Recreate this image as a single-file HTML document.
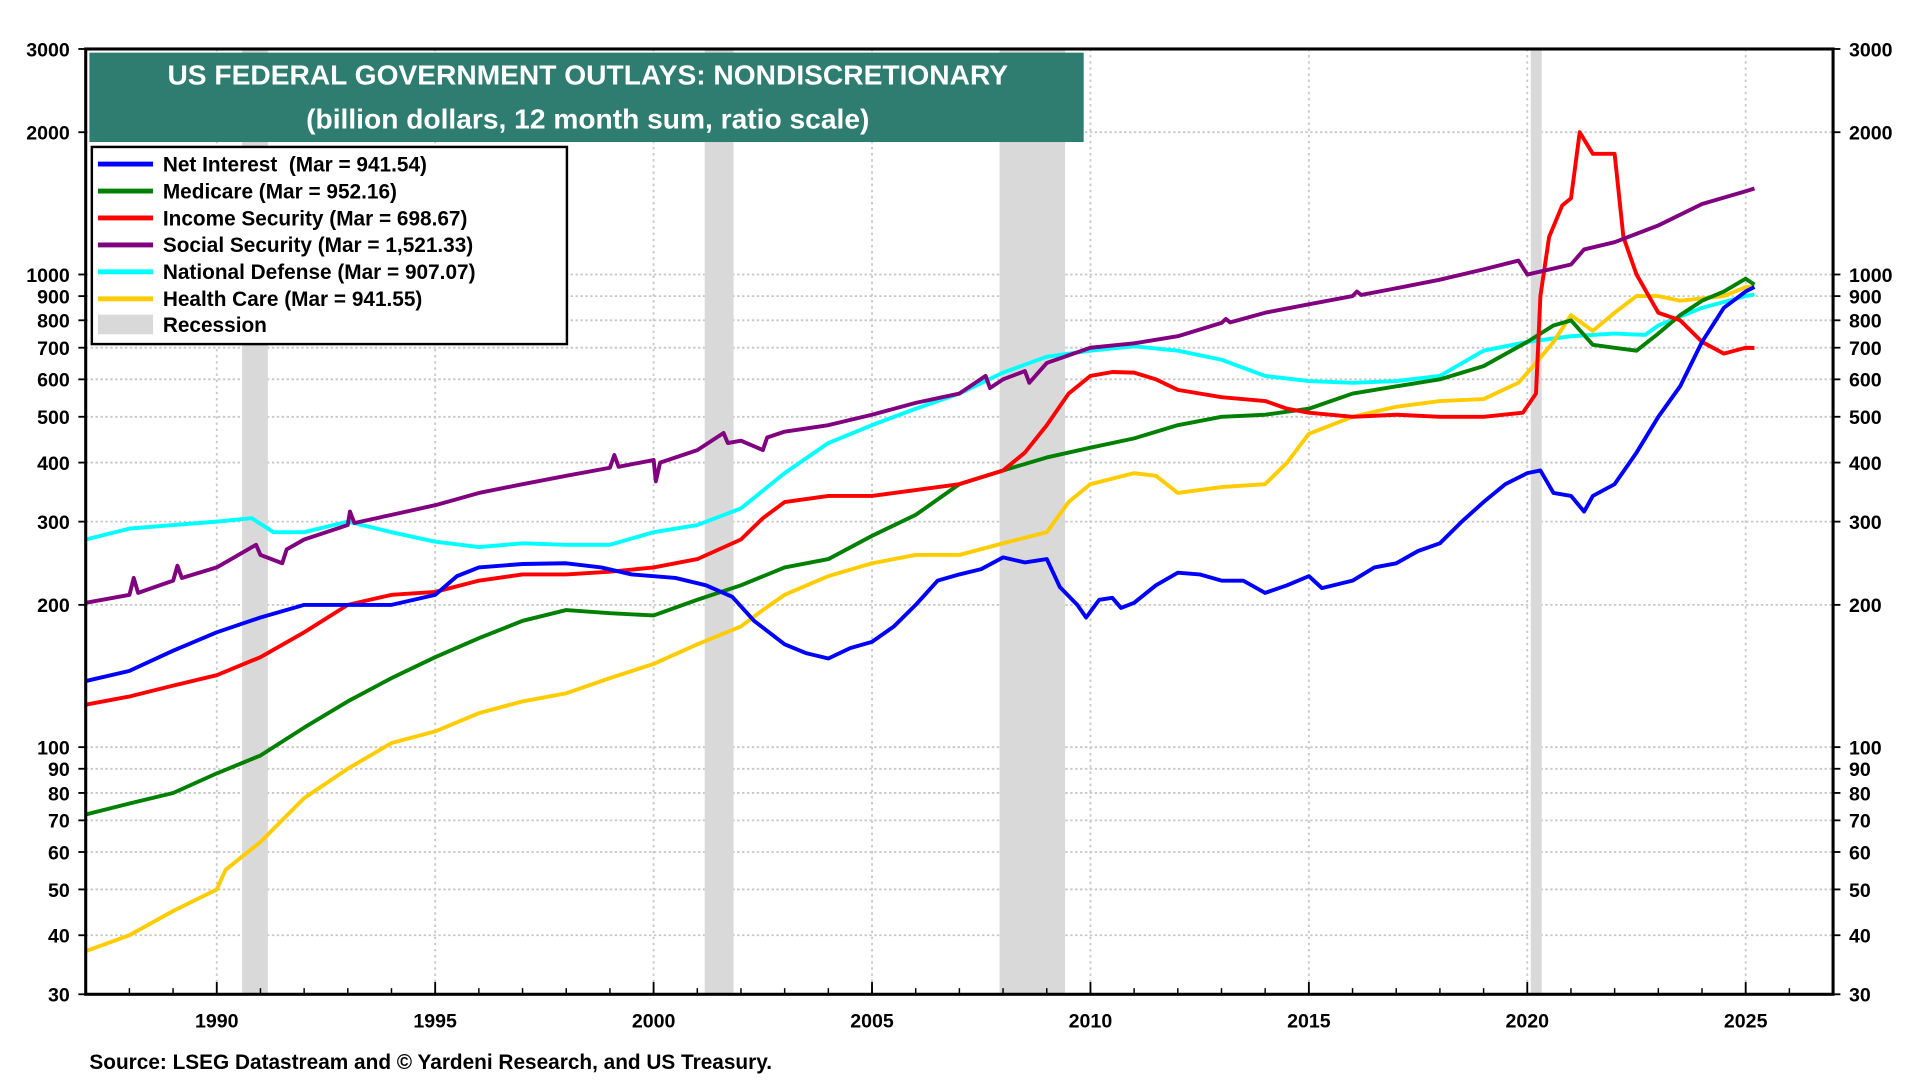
<!DOCTYPE html>
<html><head><meta charset="utf-8"><style>
html,body{margin:0;padding:0;background:#fff;width:1920px;height:1080px;overflow:hidden}
svg text{font-family:"Liberation Sans",Arial,sans-serif;font-weight:bold}
</style></head><body>
<svg id="chart" width="1920" height="1080" viewBox="0 0 1568 880" xmlns="http://www.w3.org/2000/svg">
<g id="grid"></g>
<g id="rec"></g>
<g id="series"></g>
<rect x="70" y="39" width="1427" height="772" fill="none" stroke="#000" stroke-width="2.5"/>
<g id="axes"></g>
<g>
<rect x="73" y="42" width="812" height="73" fill="#2f7d70"/>
<text x="480" y="68" text-anchor="middle" font-size="23" fill="#fff">US FEDERAL GOVERNMENT OUTLAYS: NONDISCRETIONARY</text>
<text x="480" y="104" text-anchor="middle" font-size="23" fill="#fff">(billion dollars, 12 month sum, ratio scale)</text>
</g>
<g id="legend">
<rect x="75" y="119" width="388" height="161" fill="#fff" stroke="#000" stroke-width="2"/>
</g>
<text x="73" y="872" font-size="17" fill="#000">Source: LSEG Datastream and © Yardeni Research, and US Treasury.</text>
</svg>
<script>
const yTicks=[30,40,50,60,70,80,90,100,200,300,400,500,600,700,800,900,1000,2000,3000];
const xTicks=[1990,1995,2000,2005,2010,2015,2020,2025];
const recessions=[[1990.58,1991.17],[2001.17,2001.83],[2007.92,2009.42],[2020.08,2020.33]];
const seriesNames=["Net Interest\u00a0\u00a0(Mar = 941.54)","Medicare (Mar = 952.16)","Income Security (Mar = 698.67)","Social Security (Mar = 1,521.33)","National Defense (Mar = 907.07)","Health Care (Mar = 941.55)"];
const seriesColors=["#0000ff","#008000","#ff0000","#800080","#00ffff","#ffcc00"];
const netInterestX=[1987,1988,1989,1990,1991,1992,1993,1994,1995,1995.5,1996,1997,1998,1998.8,1999.5,2000.5,2001.2,2001.8,2002.3,2003,2003.5,2004,2004.5,2005,2005.5,2006,2006.5,2007,2007.5,2008,2008.5,2009,2009.3,2009.7,2009.9,2010.2,2010.5,2010.7,2011,2011.5,2012,2012.5,2013,2013.5,2014,2014.5,2015,2015.3,2016,2016.5,2017,2017.5,2018,2018.5,2019,2019.5,2020,2020.3,2020.6,2021,2021.3,2021.5,2022,2022.5,2023,2023.5,2024,2024.5,2025,2025.2];
const netInterestY=[138,145,160,175,188,200,200,200,210,230,240,244,245,240,232,228,220,208,185,165,158,154,162,167,180,200,225,232,238,252,246,250,218,200,188,205,207,197,202,220,234,232,225,225,212,220,230,217,225,240,245,260,270,300,330,360,380,385,345,340,315,340,360,420,500,580,720,850,920,941];
const medicareX=[1987,1988,1989,1990,1991,1992,1993,1994,1995,1996,1997,1998,1999,2000,2001,2002,2003,2004,2005,2006,2007,2008,2009,2010,2011,2012,2013,2014,2015,2016,2017,2018,2019,2020,2020.6,2021,2021.5,2022,2022.5,2023,2023.5,2024,2024.5,2025,2025.2];
const medicareY=[72,76,80,88,96,110,125,140,155,170,185,195,192,190,205,220,240,250,280,310,360,385,410,430,450,480,500,505,520,560,580,600,640,720,780,800,710,700,690,750,820,880,920,980,952];
const incomeX=[1987,1988,1989,1990,1991,1992,1993,1994,1995,1996,1997,1998,1999,2000,2001,2002,2002.5,2003,2004,2005,2006,2007,2008,2008.5,2009,2009.5,2010,2010.5,2011,2011.5,2012,2013,2014,2014.5,2015,2016,2017,2018,2019,2019.9,2020.2,2020.3,2020.5,2020.8,2021,2021.2,2021.5,2022,2022.2,2022.5,2023,2023.5,2024,2024.5,2025,2025.2];
const incomeY=[123,128,135,142,155,175,200,210,213,225,232,232,235,240,250,275,305,330,340,340,350,360,385,420,480,560,610,622,620,600,570,550,540,520,510,500,505,500,500,510,560,900,1200,1400,1450,2000,1800,1800,1200,1000,830,800,720,680,700,699];
const socialX=[1987,1988,1988.1,1988.2,1989,1989.1,1989.2,1990,1990.9,1991,1991.5,1991.6,1992,1993,1993.05,1993.15,1994,1995,1996,1997,1998,1999,1999.1,1999.2,2000,2000.05,2000.15,2001,2001.6,2001.7,2002,2002.5,2002.6,2003,2004,2005,2006,2007,2007.6,2007.7,2008,2008.5,2008.6,2009,2010,2011,2012,2013,2013.1,2013.2,2014,2015,2016,2016.1,2016.2,2017,2018,2019,2019.8,2020,2021,2021.3,2022,2023,2024,2025,2025.2];
const socialY=[202,210,228,212,225,242,228,240,268,255,245,262,275,295,315,298,310,325,345,360,375,390,415,392,405,365,400,425,462,440,445,425,452,465,480,505,535,560,610,575,600,625,590,650,700,715,740,790,805,792,830,865,900,920,905,935,975,1025,1070,1000,1050,1130,1170,1270,1410,1500,1521];
const defenseX=[1987,1988,1989,1990,1990.8,1991.3,1992,1993,1994,1995,1996,1997,1998,1999,2000,2001,2002,2003,2004,2005,2006,2007,2008,2009,2010,2011,2012,2013,2014,2015,2016,2017,2018,2019,2020,2021,2022,2022.7,2023,2024,2025,2025.2];
const defenseY=[275,290,295,300,305,285,285,300,285,272,265,270,268,268,285,295,320,380,440,480,520,560,620,670,690,705,690,660,610,595,590,595,610,690,720,740,750,745,780,850,900,907];
const healthX=[1987,1988,1989,1990,1990.2,1991,1992,1993,1994,1995,1996,1997,1998,1999,2000,2001,2002,2002.5,2003,2004,2005,2006,2007,2008,2009,2009.5,2010,2011,2011.5,2012,2013,2014,2014.5,2015,2016,2017,2018,2019,2019.8,2020.2,2020.6,2021,2021.5,2022,2022.5,2023,2023.5,2024,2024.5,2025,2025.2];
const healthY=[37,40,45,50,55,63,78,90,102,108,118,125,130,140,150,165,180,195,210,230,245,255,255,270,285,330,360,380,375,345,355,360,400,460,500,525,540,545,590,650,720,820,760,830,900,900,880,890,900,940,942];
const allX=[netInterestX,medicareX,incomeX,socialX,defenseX,healthX];
const allY=[netInterestY,medicareY,incomeY,socialY,defenseY,healthY];
const X0=70,X1=1497,Y0=39,Y1=811,XMIN=1987,XMAX=2027;
function xs(t){return X0+(t-XMIN)/(XMAX-XMIN)*(X1-X0);}
function ys(v){return Y0+(Math.log10(3000)-Math.log10(v))/(Math.log10(3000)-Math.log10(30))*(Y1-Y0);}
const NS="http://www.w3.org/2000/svg";
function mk(tag,attrs,parent){const e=document.createElementNS(NS,tag);for(const k in attrs)e.setAttribute(k,attrs[k]);parent.appendChild(e);return e;}
const grid=document.getElementById('grid'),axes=document.getElementById('axes'),rec=document.getElementById('rec'),ser=document.getElementById('series'),leg=document.getElementById('legend');
yTicks.forEach(v=>{const y=ys(v);
 const g=mk('line',{x1:X0,x2:X1,y1:y,y2:y,stroke:'#c8c8c8','stroke-width':1.5,'stroke-dasharray':'2,2'},grid);
 
 
 mk('line',{x1:X0-6,x2:X0,y1:y,y2:y,stroke:'#000','stroke-width':1.5},axes);
 mk('line',{x1:X1,x2:X1+6,y1:y,y2:y,stroke:'#000','stroke-width':1.5},axes);
 const l=mk('text',{x:X0-13,y:y+6,'text-anchor':'end','font-size':16},axes);l.textContent=v;
 
 
 const r=mk('text',{x:X1+13,y:y+6,'font-size':16},axes);r.textContent=v;
 
 
});
for(let yr=1988;yr<=2026;yr++){const x=xs(yr);mk('line',{x1:x,x2:x,y1:Y1,y2:Y1-5,stroke:'#000','stroke-width':1.2},axes);}
xTicks.forEach(t=>{const x=xs(t);
 const g=mk('line',{x1:x,x2:x,y1:Y0,y2:Y1,stroke:'#c8c8c8','stroke-width':1.5,'stroke-dasharray':'2,3'},grid);
 
 
 mk('line',{x1:x,x2:x,y1:Y1,y2:Y1-10,stroke:'#000','stroke-width':1.5},axes);
 const l=mk('text',{x:x,y:Y1+27,'text-anchor':'middle','font-size':16},axes);l.textContent=t;
 
 
});
recessions.forEach(r=>{const b=mk('rect',{x:xs(r[0]),y:Y0,width:xs(r[1])-xs(r[0]),height:Y1-Y0,fill:'#d9d9d9'},rec);
 
 
});
const keys=['net-interest-line','medicare-line','income-security-line','social-security-line','national-defense-line','health-care-line'];
const order=[4,5,1,2,3,0];
order.forEach(i=>{const pts=allX[i].map((t,j)=>xs(t).toFixed(1)+','+ys(allY[i][j]).toFixed(1)).join(' ');
 const p=mk('polyline',{points:pts,fill:'none',stroke:seriesColors[i],'stroke-width':3.2,'stroke-linejoin':'round'},ser);
 
 
});
seriesNames.forEach((n,i)=>{const y=133+i*22;
 const s=mk('line',{x1:80,x2:125,y1:y,y2:y,stroke:seriesColors[i],'stroke-width':4},leg);
 
 
 const t=mk('text',{x:133,y:y+6,'font-size':17},leg);t.textContent=n;
 
 
});
const rs=mk('rect',{x:80,y:256,width:45,height:16,fill:'#d9d9d9'},leg);


const rt=mk('text',{x:133,y:270,'font-size':17},leg);rt.textContent='Recession';


</script>
</body></html>
